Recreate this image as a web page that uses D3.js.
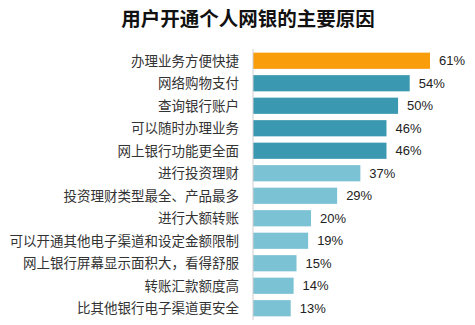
<!DOCTYPE html>
<html><head><meta charset="utf-8">
<script src="https://cdn.jsdelivr.net/npm/d3@7"></script>
<style>body{margin:0;background:#fff}</style>
</head><body>
<svg id="c" width="475" height="325"></svg>
<script>
const title = "用户开通个人网银的主要原因";
const categories = ["办理业务方便快捷","网络购物支付","查询银行账户","可以随时办理业务","网上银行功能更全面","进行投资理财","投资理财类型最全、产品最多","进行大额转账","可以开通其他电子渠道和设定金额限制","网上银行屏幕显示面积大，看得舒服","转账汇款额度高","比其他银行电子渠道更安全"];
const values = [61,54,50,46,46,37,29,20,19,15,14,13];
const colorGroups = ["top","mid","mid","mid","mid","low","low","low","low","low","low","low"];

const svg = d3.select("#c");
const colors = {top:"#F99D0B", mid:"#3A98B0", low:"#7CC2D5"};
const x = d3.scaleLinear().domain([0,61]).range([253,430]);
const y = d3.scaleBand().domain(categories).range([49.5,319.5]).paddingInner(0.28).paddingOuter(0.14);
const font = "'Noto Sans CJK SC','Noto Sans',sans-serif";

svg.append("text").attr("x",248).attr("y",26).attr("text-anchor","middle")
  .attr("font-family",font).attr("font-weight","bold").attr("font-size",19.5).attr("fill","#111").text(title);

svg.selectAll("rect.bar").data(values).join("rect").attr("class","bar")
  .attr("x",x(0)).attr("y",(d,i)=>y(categories[i])).attr("width",d=>x(d)-x(0))
  .attr("height",y.bandwidth()).attr("fill",(d,i)=>colors[colorGroups[i]]);

svg.append("line").attr("x1",x(0)).attr("x2",x(0)).attr("y1",49).attr("y2",320)
  .attr("stroke","#cfcfcf").attr("stroke-width",1);

svg.selectAll("text.cat").data(categories).join("text").attr("class","cat")
  .attr("x",239).attr("y",d=>y(d)+y.bandwidth()/2).attr("dy","0.36em")
  .attr("text-anchor","end").attr("font-family",font).attr("font-size",13.5).attr("fill","#333").text(d=>d);

svg.selectAll("text.val").data(values).join("text").attr("class","val")
  .attr("x",d=>x(d)+9).attr("y",(d,i)=>y(categories[i])+y.bandwidth()/2).attr("dy","0.36em")
  .attr("font-family","'Liberation Sans',Arial,sans-serif").attr("font-size",13).attr("fill","#222").text(d=>d+"%");
</script>
</body></html>
